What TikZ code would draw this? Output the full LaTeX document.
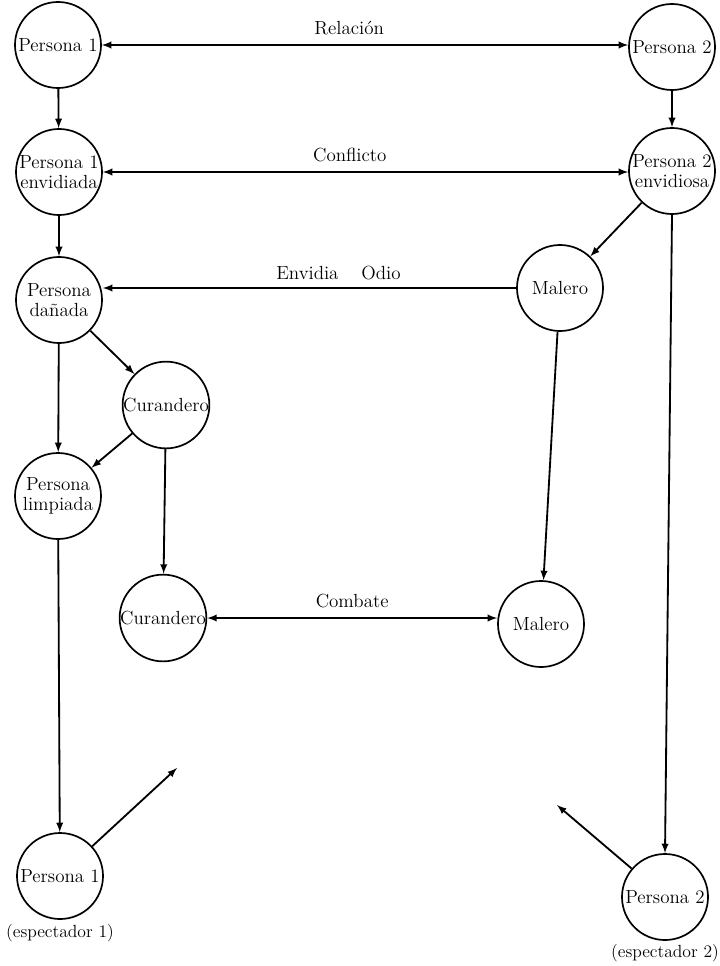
\documentclass[tikz,border=0pt]{standalone}
\usepackage{tikz}
\usetikzlibrary{arrows,calc}

\tikzset{
  actor/.style={circle,draw,line width=1.2pt,minimum size=2.15cm,inner sep=0pt,align=center,font=\fontsize{13.5}{14}\selectfont},
  flow/.style={line width=1.3pt,-latex},
  both/.style={line width=1.3pt,latex-latex},
  tag/.style={font=\fontsize{13.5}{14}\selectfont},
  small tag/.style={font=\fontsize{12.5}{14}\selectfont,inner sep=1pt}
}

\begin{document}
\begin{tikzpicture}[x=0.025cm,y=-0.025cm]
\useasboundingbox (0,0) rectangle (720,966);
% left column
\node[actor] (p1) at (58,45) {Persona 1};
\node[actor] (p1e) at (59,172) {Persona 1\\envidiada};
\node[actor] (pd) at (59,300) {Persona\\da\~nada};
\node[actor] (pl) at (58,496) {Persona\\limpiada};
\node[actor,label={[small tag,label distance=2pt]below:(espectador 1)}] (p1s) at (60,876) {Persona 1};
% healers and sorcerers
\node[actor] (cur1) at (166,405) {Curandero};
\node[actor] (cur2) at (163,618) {Curandero};
\node[actor] (mal1) at (560,288) {Malero};
\node[actor] (mal2) at (541,624) {Malero};
% right column
\node[actor] (p2) at (672,47) {Persona 2};
\node[actor] (p2e) at (672,171) {Persona 2\\envidiosa};
\node[actor,label={[small tag,label distance=1pt]below:(espectador 2)}] (p2s) at (665,897) {Persona 2};
\coordinate (f1) at (177,768);
\coordinate (f2) at (557,805);

\draw[both] (p1.east) -- (p1.east -| p2.west) node[tag,above=3pt,pos=0.47] {Relaci\'on};
\draw[both] (p1e.east) -- (p1e.east -| p2e.west) node[tag,above=3pt,pos=0.47] {Conflicto};
\draw[flow] (p1) -- (p1e);
\draw[flow] (p1e) -- (pd);
\draw[flow] (p2) -- (p2e);
\draw[flow] (p2e) -- (mal1);
\draw[flow] (p2e.south) -- (p2s.north);
\draw[flow] (mal1.west) -- (mal1.west -| pd.east) node[tag,above=2pt,pos=0.43] {Envidia\hspace{1.2em}Odio};
\draw[flow] (pd) -- (cur1);
\draw[flow] (pd) -- (pl);
\draw[flow] (cur1) -- (pl);
\draw[flow] (cur1) -- (cur2);
\draw[both] (cur2.east) -- (cur2.east -| mal2.west) node[tag,above=3pt,midway] {Combate};
\draw[flow] (mal1) -- (mal2);
\draw[flow] (pl) -- (p1s);
\draw[flow] (p1s) -- (f1);
\draw[flow] (p2s) -- (f2);
\end{tikzpicture}
\end{document}
